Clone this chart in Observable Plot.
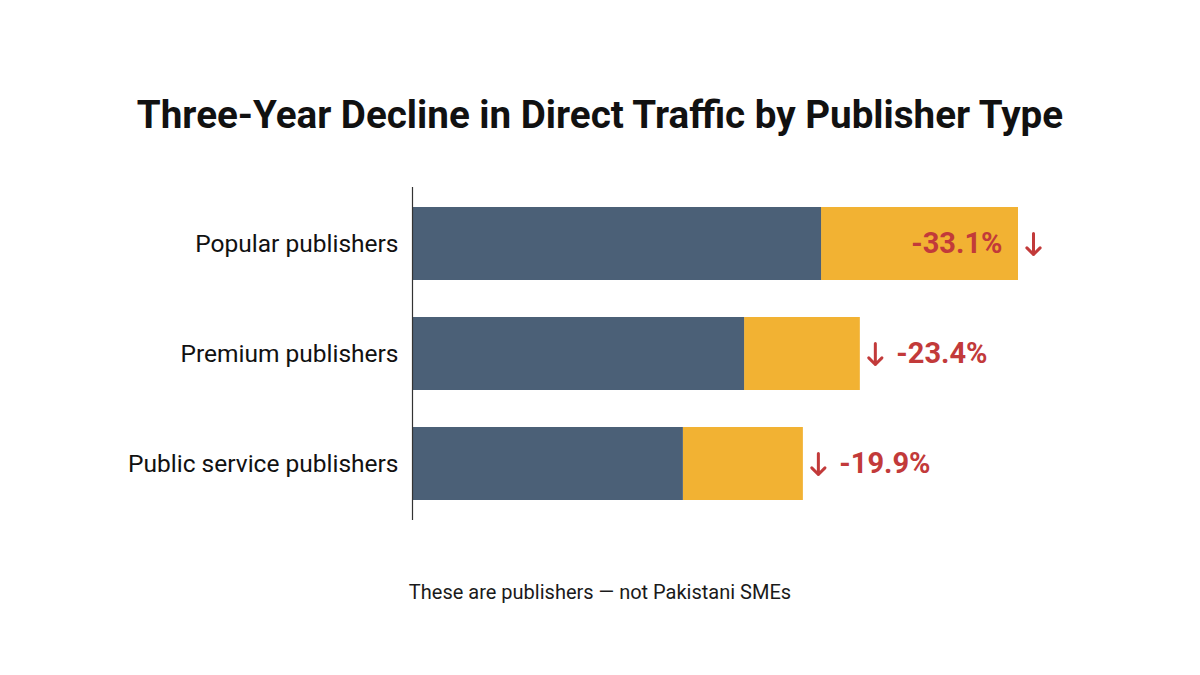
<!DOCTYPE html>
<html>
<head>
<meta charset="utf-8">
<script src="https://cdn.jsdelivr.net/npm/d3@7"></script>
<script src="https://cdn.jsdelivr.net/npm/@observablehq/plot@0.6"></script>
<style>
  html, body { margin: 0; padding: 0; background: #ffffff; }
  body { width: 1200px; height: 675px; position: relative; overflow: hidden; font-family: Roboto, "Noto Sans", sans-serif; }
  #title { position: absolute; left: 0; top: 92px; width: 1200px; text-align: center; font-size: 38.6px; font-weight: 700; color: #111; }
  #chart { position: absolute; left: 0; top: 170px; }
  #caption { position: absolute; left: 0; top: 580px; width: 1200px; text-align: center; font-size: 20px; color: #1a1a1a; }
</style>
</head>
<body>
<div id="title">Three-Year Decline in Direct Traffic by Publisher Type</div>
<div id="chart"></div>
<div id="caption">These are publishers — not Pakistani SMEs</div>
<script>
// Publisher groups, top to bottom
const categories = ["Popular publishers", "Premium publishers", "Public service publishers"];
// Direct traffic index three years ago (full bar length)
const before = [100, 73.9, 64.5];
// Direct traffic index today (dark segment)
const after = [67.5, 54.8, 44.7];
// Reported decline for each group
const declineLabels = ["-33.1%", "-23.4%", "-19.9%"];

const rows = categories.map((c, i) => ({
  category: c,
  before: before[i],
  after: after[i],
  label: declineLabels[i],
  first: i === 0
}));

const red = "#c23a3a";

const chart = Plot.plot({
  width: 1200,
  height: 370,
  marginLeft: 412,
  marginRight: 182,
  marginTop: 17,
  marginBottom: 20,
  style: { fontFamily: "Roboto, 'Noto Sans', sans-serif", background: "transparent" },
  x: { domain: [0, 100], axis: null },
  y: { domain: categories, paddingInner: 0.333, paddingOuter: 0.18, label: null },
  marks: [
    // Lost traffic: from today's level up to the earlier level
    Plot.barX(rows, { y: "category", x1: "after", x2: "before", fill: "#f2b233" }),
    // Remaining traffic
    Plot.barX(rows, { y: "category", x1: 0, x2: "after", fill: "#4b6077" }),
    Plot.ruleX([0], { stroke: "#333", strokeWidth: 1.2 }),
    Plot.axisY({ tickSize: 0, tickPadding: 14, fontSize: 24.5, fill: "#111", label: null }),
    // Down arrows just past each bar end
    Plot.vector(rows, {
      x: "before", y: "category", length: 21, rotate: 180, anchor: "middle",
      shape: "arrow", r: 5.5, dx: 15, stroke: red, strokeWidth: 3,
      strokeLinecap: "round", strokeLinejoin: "round"
    }),
    // Top row: value sits inside the amber segment
    Plot.text(rows.filter(d => d.first), {
      x: "before", y: "category", text: "label", textAnchor: "end", dx: -16,
      fill: red, fontSize: 29, fontWeight: 700
    }),
    // Other rows: value follows the arrow
    Plot.text(rows.filter(d => !d.first), {
      x: "before", y: "category", text: "label", textAnchor: "start", dx: 36,
      fill: red, fontSize: 29, fontWeight: 700
    })
  ]
});

document.getElementById("chart").appendChild(chart);
</script>
</body>
</html>
